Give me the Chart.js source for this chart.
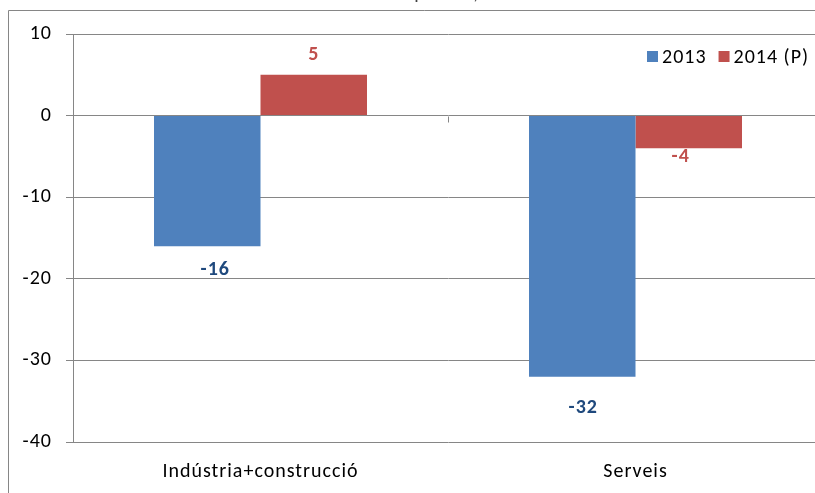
<!DOCTYPE html>
<html>
<head>
<meta charset="utf-8">
<script src="https://cdn.jsdelivr.net/npm/chart.js@4/dist/chart.umd.min.js"></script>
<style>
  html, body { margin: 0; padding: 0; background: #ffffff; overflow: hidden; }
  #wrap { width: 815px; height: 493px; overflow: hidden; position: relative; }
  canvas { position: absolute; left: 0; top: 0; }
</style>
</head>
<body>
<div id="wrap"><canvas id="c" width="840" height="493"></canvas></div>
<script>
const categories = ['Indústria+construcció', 'Serveis'];
const seriesLabels = ['2013', '2014 (P)'];
const values2013 = [-16, -32];
const values2014 = [5, -4];
const yTicks = [10, 0, -10, -20, -30, -40];
const titleText = 'Saldo de respostes, en %';

const FONT = "Carlito, Calibri, 'Open Sans', 'Liberation Sans', sans-serif";
const GRID = '#868686';
const SPACING = '1px';

const framePlugin = {
  id: 'frame',
  beforeInit(chart) { chart.ctx.letterSpacing = SPACING; },
  beforeLayout(chart) { chart.ctx.letterSpacing = SPACING; },
  beforeDraw(chart) {
    const ctx = chart.ctx;
    ctx.letterSpacing = SPACING;
    ctx.save();
    ctx.strokeStyle = GRID;
    ctx.lineWidth = 1;
    ctx.beginPath();
    ctx.moveTo(8.5, chart.height + 5);
    ctx.lineTo(8.5, 10.5);
    ctx.lineTo(chart.width + 5, 10.5);
    ctx.stroke();
    // title (cut off by the top edge, as in the source picture)
    ctx.fillStyle = '#404040';
    ctx.font = '20px ' + FONT;
    ctx.textAlign = 'center';
    ctx.textBaseline = 'alphabetic';
    ctx.fillText(titleText, 416, -1);
    ctx.restore();
  },
  afterDatasetsDraw(chart) {
    const ctx = chart.ctx;
    const xs = chart.scales.x, ys = chart.scales.y;
    const y0 = Math.round(ys.getPixelForValue(0)) + 0.5;
    ctx.save();
    ctx.letterSpacing = SPACING;
    ctx.strokeStyle = GRID;
    ctx.lineWidth = 1;
    ctx.beginPath();
    for (let i = 0; i <= categories.length; i++) {
      const x = Math.round(xs.getPixelForValue(i - 0.5)) + 0.5;
      ctx.moveTo(x, y0);
      ctx.lineTo(x, y0 + 6);
    }
    ctx.stroke();

    // data labels
    const labelColors = ['#1F497D', '#C0504D'];
    const dy = [[24, 31], [-20, 9]];
    const dx = [[8, 1], [0, -8]];
    ctx.font = 'bold 20px ' + FONT;
    ctx.textAlign = 'center';
    ctx.textBaseline = 'middle';
    chart.data.datasets.forEach((ds, di) => {
      const meta = chart.getDatasetMeta(di);
      meta.data.forEach((bar, i) => {
        ctx.fillStyle = labelColors[di];
        ctx.fillText(String(ds.data[i]), bar.x + dx[di][i], bar.y + dy[di][i]);
      });
    });

    // legend
    ctx.font = '20px ' + FONT;
    ctx.textAlign = 'left';
    ctx.textBaseline = 'middle';
    const ly = 56.5;
    let lx = 647;
    chart.data.datasets.forEach((ds) => {
      ctx.fillStyle = ds.backgroundColor;
      ctx.fillRect(lx, ly - 5.5, 11, 11);
      ctx.fillStyle = '#000000';
      ctx.fillText(ds.label, lx + 15, ly + 1);
      lx += 15 + ctx.measureText(ds.label).width + 12;
    });
    ctx.restore();
  }
};

new Chart(document.getElementById('c'), {
  type: 'bar',
  data: {
    labels: categories,
    datasets: [
      { label: seriesLabels[0], data: values2013, backgroundColor: '#4F81BD' },
      { label: seriesLabels[1], data: values2014, backgroundColor: '#C0504D' }
    ]
  },
  options: {
    responsive: false,
    animation: false,
    devicePixelRatio: 1,
    layout: { padding: { top: 34, right: 17, bottom: 0, left: 0 } },
    datasets: { bar: { categoryPercentage: 0.568, barPercentage: 1.0 } },
    plugins: { legend: { display: false }, title: { display: false }, tooltip: { enabled: false } },
    scales: {
      x: {
        grid: { display: false },
        border: { display: false },
        ticks: { color: '#000000', font: { family: FONT, size: 20 }, padding: 10, maxRotation: 0 },
        afterFit(s) { s.height = 51; }
      },
      y: {
        min: -40, max: 10,
        afterBuildTicks(s) { s.ticks = yTicks.map(v => ({ value: v })); },
        grid: { color: GRID, lineWidth: 1, tickLength: 7, drawTicks: true },
        border: { display: true, color: GRID, width: 1 },
        ticks: { color: '#000000', font: { family: FONT, size: 20 }, padding: 14 },
        afterFit(s) { s.width = 73; }
      }
    }
  },
  plugins: [framePlugin]
});
</script>
</body>
</html>
